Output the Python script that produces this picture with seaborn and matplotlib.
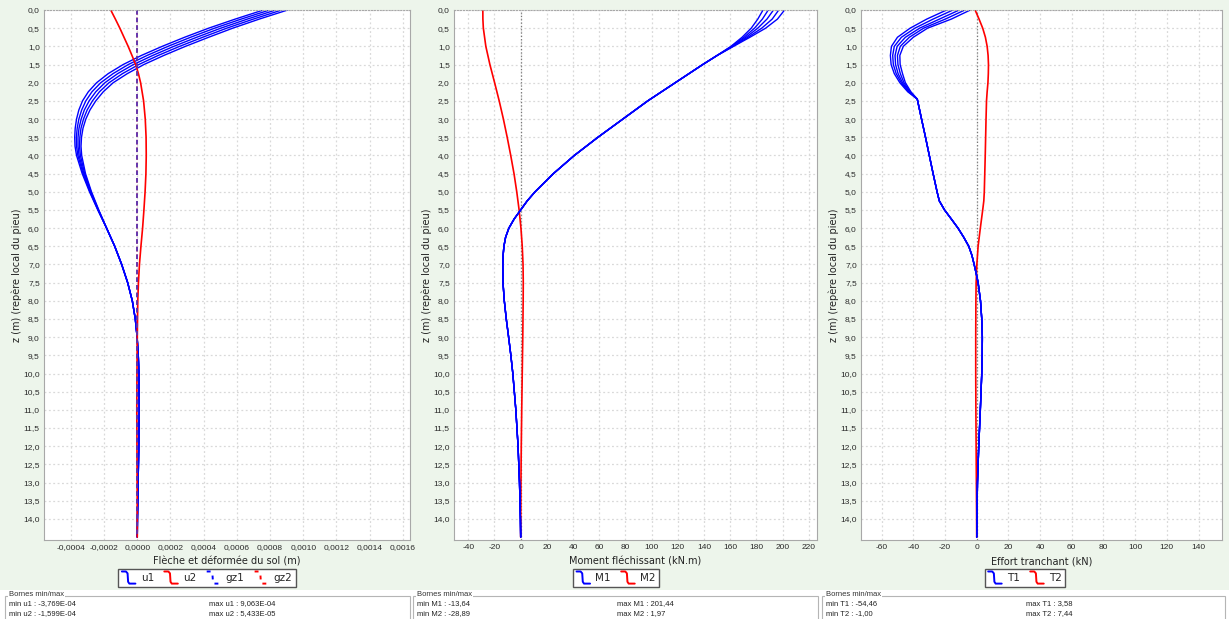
import numpy as np
import seaborn as sns
import matplotlib.pyplot as plt
from matplotlib.lines import Line2D
from matplotlib.patches import Rectangle
from matplotlib.legend_handler import HandlerBase
from matplotlib.ticker import FuncFormatter

# ---- data ----
# panel 1 : deflection u1 (5 cases), u2, soil displacement gz1/gz2  (values in 1e-4 m)
z_top = [0.0, 0.25, 0.5, 0.75, 1.0, 1.25, 1.5, 1.75, 2.0, 2.25, 2.5, 2.75,
         3.0, 3.25, 3.5, 3.75, 4.0, 4.5, 5.0, 5.5]
z_tail = [6.0, 6.5, 7.0, 7.5, 8.0, 8.5, 9.0, 9.5, 10.0, 11.0, 12.0, 13.0, 14.0, 14.5]
u1_top = [
    [7.60, 5.90, 4.30, 2.85, 1.50, 0.25, -0.85, -1.75, -2.45, -2.95, -3.30, -3.52,
     -3.66, -3.74, -3.77, -3.75, -3.66, -3.32, -2.88, -2.38],
    [7.97, 6.26, 4.66, 3.21, 1.85, 0.59, -0.54, -1.46, -2.20, -2.73, -3.10, -3.35,
     -3.52, -3.62, -3.67, -3.66, -3.58, -3.27, -2.85, -2.37],
    [8.33, 6.63, 5.03, 3.58, 2.20, 0.93, -0.23, -1.18, -1.95, -2.50, -2.90, -3.19,
     -3.38, -3.51, -3.57, -3.57, -3.51, -3.22, -2.82, -2.35],
    [8.70, 6.99, 5.39, 3.94, 2.55, 1.26, 0.09, -0.89, -1.70, -2.28, -2.70, -3.02,
     -3.24, -3.39, -3.46, -3.48, -3.43, -3.17, -2.79, -2.34],
    [9.06, 7.35, 5.75, 4.30, 2.90, 1.60, 0.40, -0.60, -1.45, -2.05, -2.50, -2.85,
     -3.10, -3.27, -3.36, -3.39, -3.35, -3.12, -2.76, -2.32],
]
u1_tail = [-1.85, -1.36, -0.94, -0.58, -0.30, -0.12, -0.01, 0.06, 0.10, 0.12, 0.09, 0.05, 0.01, 0.0]

z_u2 = [0.0, 0.25, 0.5, 0.75, 1.0, 1.25, 1.5, 1.75, 2.0, 2.5, 3.0, 3.5, 4.0, 4.5, 5.0,
        5.5, 6.0, 6.5, 7.0, 7.5, 8.0, 9.0, 10.0, 11.0, 12.0, 13.0, 14.0, 14.5]
u2 = [-1.60, -1.32, -1.05, -0.80, -0.55, -0.32, -0.10, 0.07, 0.20, 0.38, 0.48, 0.53, 0.54,
      0.52, 0.47, 0.40, 0.32, 0.22, 0.13, 0.07, 0.03, 0.0, -0.02, -0.03, -0.02, -0.01, 0.0, 0.0]

z_gz = [0.0, 14.5]
gz1 = [0.0, 0.0]
gz2 = [0.0, 0.0]

# panel 2 : bending moment (kN.m)
z_m_top = [0.0, 0.25, 0.5, 0.75, 1.0]
m1_top = [
    [185.0, 181.0, 176.0, 169.0, 160.5],
    [189.0, 184.5, 178.5, 170.5, 161.0],
    [193.0, 188.0, 181.0, 172.0, 161.5],
    [197.0, 192.0, 184.0, 173.5, 162.0],
    [201.44, 196.0, 187.0, 175.0, 162.5],
]
z_m_tail = [1.25, 1.5, 1.75, 2.0, 2.25, 2.5, 2.75, 3.0, 3.25, 3.5, 3.75, 4.0, 4.25, 4.5,
            4.75, 5.0, 5.25, 5.5, 5.75, 6.0, 6.25, 6.5, 6.75, 7.0, 7.5, 8.0, 8.5, 9.0,
            9.5, 10.0, 11.0, 12.0, 13.0, 14.0, 14.5]
m1_tail = [150.0, 139.0, 128.5, 118.0, 107.5, 97.0, 87.5, 78.0, 68.5, 59.0, 50.0, 41.0,
           33.0, 25.0, 18.0, 11.0, 5.0, 0.0, -5.0, -9.0, -11.5, -12.8, -13.4, -13.64,
           -13.5, -12.5, -11.0, -9.2, -7.5, -6.0, -3.7, -2.0, -0.9, -0.2, 0.0]

z_m2 = [0.0, 0.25, 0.5, 1.0, 1.5, 2.0, 2.5, 3.0, 3.5, 4.0, 4.5, 5.0, 5.5, 6.0, 6.5, 7.0,
        7.5, 8.0, 9.0, 10.0, 11.0, 12.0, 13.0, 14.0, 14.5]
m2 = [-28.89, -28.85, -28.5, -26.6, -23.5, -19.9, -16.4, -13.2, -10.3, -7.6, -5.1, -3.0,
      -1.2, 0.2, 1.2, 1.8, 1.97, 1.9, 1.6, 1.2, 0.8, 0.45, 0.2, 0.05, 0.0]

# panel 3 : shear force (kN)
z_t_top = [0.0, 0.25, 0.5, 0.75, 1.0, 1.25, 1.5, 1.75, 2.0, 2.25]
t1_top = [
    [-19.0, -31.5, -42.0, -50.0, -53.8, -54.46, -54.0, -52.0, -48.5, -43.5],
    [-15.0, -27.5, -39.0, -47.5, -52.0, -53.0, -52.6, -50.8, -47.6, -43.0],
    [-11.0, -23.5, -36.0, -45.0, -50.2, -51.5, -51.2, -49.6, -46.8, -42.5],
    [-7.5, -19.8, -33.5, -42.5, -48.2, -50.0, -49.7, -48.2, -45.9, -42.0],
    [-4.0, -16.0, -31.0, -40.0, -46.3, -48.5, -48.3, -46.8, -45.0, -41.5],
]
z_t_tail = [2.45, 3.0, 3.5, 4.0, 4.5, 5.0, 5.25, 5.5, 5.75, 6.0, 6.25, 6.5, 6.75, 7.0,
            7.25, 7.5, 8.0, 8.5, 9.0, 9.5, 10.0, 11.0, 12.0, 13.0, 14.0, 14.5]
t1_tail = [-37.5, -34.8, -32.3, -29.9, -27.5, -25.0, -23.6, -20.3, -16.0, -11.8, -8.2,
           -5.0, -3.0, -1.6, -0.3, 0.9, 2.4, 3.2, 3.58, 3.5, 3.2, 2.3, 1.3, 0.5, 0.1, 0.0]

z_t2 = [0.0, 0.25, 0.5, 0.75, 1.0, 1.25, 1.5, 1.75, 2.0, 2.25, 2.5, 3.0, 4.0, 5.0, 5.25,
        5.5, 6.0, 6.5, 7.0, 7.5, 8.0, 9.0, 10.0, 11.0, 12.0, 13.0, 14.0, 14.5]
t2 = [-1.0, 1.5, 3.8, 5.5, 6.6, 7.2, 7.44, 7.35, 7.1, 6.6, 6.2, 5.9, 5.4, 4.8, 4.5, 3.8,
      2.3, 0.9, 0.1, -0.35, -0.5, -0.6, -0.6, -0.5, -0.35, -0.2, -0.05, 0.0]

bornes = [
    ["min u1 : -3,769E-04", "min u2 : -1,599E-04", "max u1 : 9,063E-04", "max u2 : 5,433E-05"],
    ["min M1 : -13,64", "min M2 : -28,89", "max M1 : 201,44", "max M2 : 1,97"],
    ["min T1 : -54,46", "min T2 : -1,00", "max T1 : 3,58", "max T2 : 7,44"],
]

# ---- style ----
sns.set_style("white")
plt.rcParams['font.family'] = ['DejaVu Sans']

W, H = 1229, 619
BG = '#edf5eb'
BLUE = '#0000ff'
RED = '#ff0000'

fig = plt.figure(figsize=(W / 100, H / 100), dpi=100, facecolor=BG)


class StepHandler(HandlerBase):
    # little "step" glyph used by the program legend
    def create_artists(self, legend, orig_handle, xdescent, ydescent, width, height, fontsize, trans):
        xs = np.array([0.0, 0.3, 0.42, 0.46, 0.55, 1.0]) * width - xdescent
        ys = np.array([1.15, 1.15, 0.95, 0.05, -0.15, -0.15]) * height - ydescent
        ln = Line2D(xs, ys, color=orig_handle.get_color(), lw=1.4,
                    linestyle=orig_handle.get_linestyle(), transform=trans)
        if orig_handle.get_linestyle() != '-':
            ln.set_dashes((2, 2.5))
        return [ln]


def draw(ax, x, z, color, lw=1.0):
    sns.lineplot(x=x, y=z, sort=False, estimator=None, color=color, linewidth=lw, ax=ax)


def comma(fmt):
    def f(v, p):
        if abs(v) < 1e-12:
            v = 0.0
        return (fmt % v).replace('.', ',')
    return FuncFormatter(f)


def setup(ax, xlim, xticks, xfmt, xlabel):
    ax.set_facecolor('white')
    ax.set_xlim(*xlim)
    ax.set_ylim(14.58, 0)
    ax.set_xticks(xticks)
    ax.set_yticks(np.arange(0, 14.01, 0.5))
    ax.xaxis.set_major_formatter(comma(xfmt))
    ax.yaxis.set_major_formatter(comma('%.1f'))
    ax.grid(True, color='#d9d9d9', linestyle=(0, (1.5, 2)), linewidth=0.9)
    ax.set_axisbelow(True)
    ax.tick_params(length=0, labelsize=6, labelcolor='#2a2a2a', pad=3)
    for lab in ax.get_xticklabels() + ax.get_yticklabels():
        lab.set_family('Liberation Sans')
    ax.set_xlabel(xlabel, fontsize=7, color='#222222', labelpad=4)
    ax.set_ylabel('z (m) (repère local du pieu)', fontsize=7, color='#222222', labelpad=1)
    for s in ax.spines.values():
        s.set_color('#a8a8a8')
        s.set_linewidth(0.8)
    ax.spines['top'].set_linestyle(':')


top_y = 10
bot_y = 540
ax1 = fig.add_axes([44 / W, 1 - bot_y / H, 366 / W, (bot_y - top_y) / H])
ax2 = fig.add_axes([454 / W, 1 - bot_y / H, 363 / W, (bot_y - top_y) / H])
ax3 = fig.add_axes([861 / W, 1 - bot_y / H, 361 / W, (bot_y - top_y) / H])

# panel 1
for row in u1_top:
    draw(ax1, np.array(row + u1_tail) * 1e-4, z_top + z_tail, BLUE, 1.0)
draw(ax1, np.array(u2) * 1e-4, z_u2, RED, 1.2)
draw(ax1, gz2, z_gz, RED, 1.1)
ax1.lines[-1].set_dashes((3, 2))
draw(ax1, gz1, z_gz, '#3a3ad0', 1.1)
ax1.lines[-1].set_dashes((3, 2))
setup(ax1, (-0.000562, 0.001643), np.round(np.arange(-0.0004, 0.00161, 0.0002), 4),
      '%.4f', 'Flèche et déformée du sol (m)')

# panel 2
ax2.axvline(0, color='#777777', linestyle=':', linewidth=0.9)
draw(ax2, m2, z_m2, RED, 1.2)
for row in m1_top:
    draw(ax2, row + m1_tail, z_m_top + z_m_tail, BLUE, 1.0)
setup(ax2, (-50.9, 226.2), np.arange(-40, 221, 20), '%d', 'Moment fléchissant (kN.m)')

# panel 3
ax3.axvline(0, color='#777777', linestyle=':', linewidth=0.9)
draw(ax3, t2, z_t2, RED, 1.2)
for row in t1_top:
    draw(ax3, row + t1_tail, z_t_top + z_t_tail, BLUE, 1.0)
setup(ax3, (-73.0, 154.8), np.arange(-60, 141, 20), '%d', 'Effort tranchant (kN)')

# legends
leg_sets = [
    (207, [('u1', BLUE, '-'), ('u2', RED, '-'), ('gz1', BLUE, '--'), ('gz2', RED, '--')]),
    (616, [('M1', BLUE, '-'), ('M2', RED, '-')]),
    (1025, [('T1', BLUE, '-'), ('T2', RED, '-')]),
]
for cx, items in leg_sets:
    handles = [Line2D([], [], color=c, linestyle=ls) for _, c, ls in items]
    labels = [n for n, _, _ in items]
    leg = fig.legend(handles, labels, loc='center', bbox_to_anchor=(cx / W, 1 - 578 / H),
                     ncol=len(items), handler_map={Line2D: StepHandler()},
                     fontsize=7.5, frameon=True, fancybox=False, edgecolor='#555555',
                     facecolor='white', framealpha=1, borderpad=0.35, handlelength=1.3,
                     handleheight=1.0, handletextpad=0.5, columnspacing=1.0,
                     borderaxespad=0)
    leg.get_frame().set_linewidth(1.0)

# "Bornes min/max" boxes
fig.add_artist(Rectangle((0, 0), 1, 29 / H, transform=fig.transFigure,
                         facecolor='white', edgecolor='none'))
box_x = [(5, 410), (413, 818), (822, 1225)]
for (x0, x1), txt in zip(box_x, bornes):
    fig.add_artist(Rectangle((x0 / W, -0.02), (x1 - x0) / W, 0.02 + (619 - 596) / H,
                             transform=fig.transFigure, fill=False,
                             edgecolor='#b5b5b5', linewidth=0.8))
    fig.text((x0 + 4) / W, 1 - 595 / H, 'Bornes min/max', fontsize=5.5, color='#333333',
             family='Liberation Sans', va='center', ha='left',
             bbox=dict(facecolor='white', edgecolor='none', pad=0.5))
    fig.text((x0 + 4) / W, 1 - 604 / H, txt[0], fontsize=5.5, color='#222222',
             family='Liberation Sans', va='center')
    fig.text((x0 + 4) / W, 1 - 614 / H, txt[1], fontsize=5.5, color='#222222',
             family='Liberation Sans', va='center')
    fig.text((x0 + 204) / W, 1 - 604 / H, txt[2], fontsize=5.5, color='#222222',
             family='Liberation Sans', va='center')
    fig.text((x0 + 204) / W, 1 - 614 / H, txt[3], fontsize=5.5, color='#222222',
             family='Liberation Sans', va='center')

fig.savefig('out.png', dpi=100, facecolor=BG)
